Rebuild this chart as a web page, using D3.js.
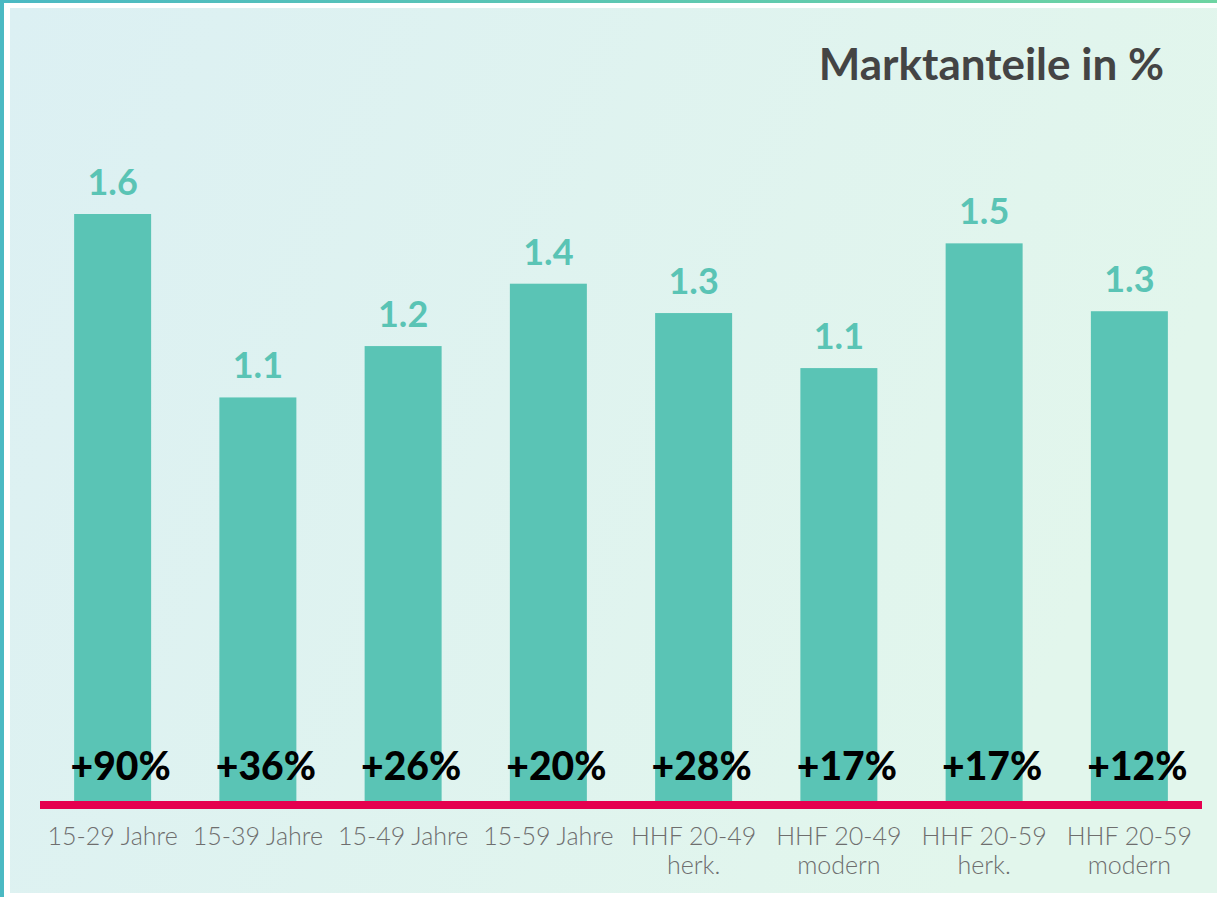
<!DOCTYPE html>
<html>
<head>
<meta charset="utf-8">
<script src="https://cdn.jsdelivr.net/npm/d3@7"></script>
<style>
  body { margin: 0; background: #fff; }
  svg { display: block; }
</style>
</head>
<body>
<div id="chart"></div>
<script>
// data
var categories = [
  ["15-29 Jahre"], ["15-39 Jahre"], ["15-49 Jahre"], ["15-59 Jahre"],
  ["HHF 20-49", "herk."], ["HHF 20-49", "modern"],
  ["HHF 20-59", "herk."], ["HHF 20-59", "modern"]
];
var shares = [1.60, 1.10, 1.24, 1.41, 1.33, 1.18, 1.52, 1.335];
var shareLabels = ["1.6", "1.1", "1.2", "1.4", "1.3", "1.1", "1.5", "1.3"];
var changes = ["+90%", "+36%", "+26%", "+20%", "+28%", "+17%", "+17%", "+12%"];

function init() {
  var width = 1217, height = 897;
  var baseline = 801;
  var font = "Lato, 'Open Sans', sans-serif";

  var svg = d3.select("#chart").append("svg")
    .attr("width", width)
    .attr("height", height);

  var defs = svg.append("defs");
  var bg = defs.append("linearGradient").attr("id", "bg")
    .attr("x1", "0").attr("y1", "0").attr("x2", "1").attr("y2", "0.3");
  bg.append("stop").attr("offset", "0").attr("stop-color", "#dcf0f3");
  bg.append("stop").attr("offset", "1").attr("stop-color", "#e2f6ec");

  var border = defs.append("linearGradient").attr("id", "border")
    .attr("x1", "0").attr("y1", "0").attr("x2", "1").attr("y2", "0");
  border.append("stop").attr("offset", "0").attr("stop-color", "#4bb9c3");
  border.append("stop").attr("offset", "1").attr("stop-color", "#6dd4a2");

  // frame
  svg.append("rect").attr("x", 0).attr("y", 0).attr("width", width).attr("height", 3)
    .attr("fill", "url(#border)");
  svg.append("rect").attr("x", 0).attr("y", 0).attr("width", 4).attr("height", height)
    .attr("fill", "#4bb9c3");
  svg.append("rect").attr("x", 10).attr("y", 8).attr("width", width - 10).attr("height", 885)
    .attr("fill", "url(#bg)");

  var x = d3.scaleBand()
    .domain(d3.range(categories.length))
    .range([40, 1202])
    .paddingInner(0.47)
    .paddingOuter(0.235);

  var y = d3.scaleLinear()
    .domain([0, 1.6])
    .range([baseline, 214]);

  svg.selectAll("rect.bar")
    .data(shares)
    .enter()
    .append("rect")
    .attr("class", "bar")
    .attr("x", function(d, i) { return x(i); })
    .attr("y", function(d) { return y(d); })
    .attr("width", x.bandwidth())
    .attr("height", function(d) { return baseline - y(d); })
    .attr("fill", "#5ac4b5");

  svg.selectAll("text.val")
    .data(shares)
    .enter()
    .append("text")
    .attr("class", "val")
    .attr("x", function(d, i) { return x(i) + x.bandwidth() / 2; })
    .attr("y", function(d) { return y(d) - 19; })
    .attr("text-anchor", "middle")
    .attr("font-family", font)
    .attr("font-weight", 700)
    .attr("font-size", "36px")
    .attr("fill", "#5ac4b5")
    .text(function(d, i) { return shareLabels[i]; });

  svg.selectAll("text.chg")
    .data(changes)
    .enter()
    .append("text")
    .attr("class", "chg")
    .attr("x", function(d, i) { return x(i) + x.bandwidth() / 2 + 8; })
    .attr("y", 780)
    .attr("text-anchor", "middle")
    .attr("font-family", font)
    .attr("font-weight", 900)
    .attr("font-size", "39px")
    .attr("fill", "#000")
    .text(function(d) { return d; });

  // red baseline
  svg.append("rect")
    .attr("x", 40).attr("y", baseline)
    .attr("width", 1162).attr("height", 8)
    .attr("fill", "#e5004f");

  var cats = svg.selectAll("text.cat")
    .data(categories)
    .enter()
    .append("text")
    .attr("class", "cat")
    .attr("x", function(d, i) { return x(i) + x.bandwidth() / 2; })
    .attr("y", 845)
    .attr("text-anchor", "middle")
    .attr("font-family", font)
    .attr("font-weight", 300)
    .attr("font-size", "25px")
    .attr("fill", "#6e6e6e");

  cats.selectAll("tspan")
    .data(function(d) { return d; })
    .enter()
    .append("tspan")
    .attr("x", function() { return d3.select(this.parentNode).attr("x"); })
    .attr("dy", function(d, i) { return i === 0 ? 0 : 29; })
    .text(function(d) { return d; });

  svg.append("text")
    .attr("x", 1164)
    .attr("y", 80)
    .attr("text-anchor", "end")
    .attr("font-family", font)
    .attr("font-weight", 700)
    .attr("font-size", "44px")
    .attr("fill", "#444")
    .text("Marktanteile in %");
}
window.onload = init;
</script>
</body>
</html>
